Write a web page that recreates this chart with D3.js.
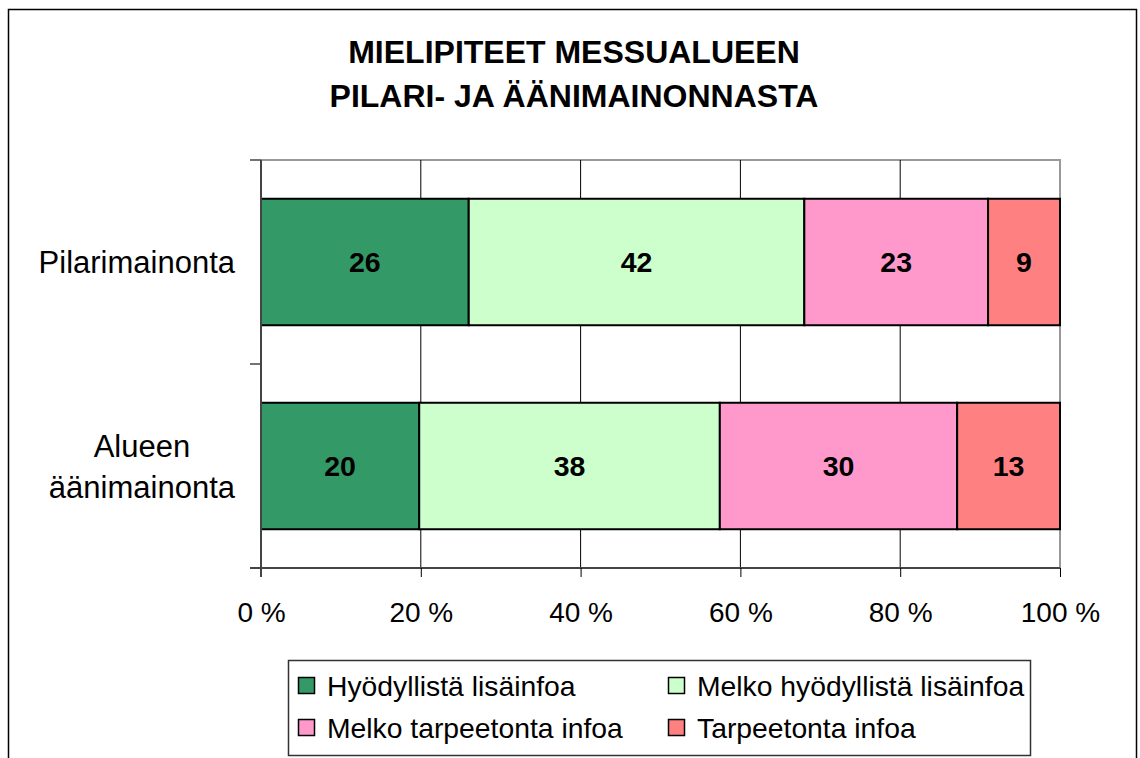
<!DOCTYPE html>
<html><head><meta charset="utf-8">
<script src="https://cdn.jsdelivr.net/npm/d3@7"></script>
<style>body{margin:0;background:#fff}svg{display:block;font-family:Arial,"Liberation Sans",sans-serif}</style>
</head><body>
<svg id="c" width="1140" height="758"></svg>
<script>
const categories = ["Pilarimainonta", "Alueen äänimainonta"];
const categoryLines = [["Pilarimainonta"], ["Alueen", "äänimainonta"]];
const seriesNames = ["Hyödyllistä lisäinfoa", "Melko hyödyllistä lisäinfoa", "Melko tarpeetonta infoa", "Tarpeetonta infoa"];
const seriesColors = ["#339966", "#CCFFCC", "#FF99CC", "#FF8080"];
const hyodyllista = [26, 20];
const melkoHyodyllista = [42, 38];
const melkoTarpeeton = [23, 30];
const tarpeeton = [9, 13];
const tickValues = [0, 0.2, 0.4, 0.6, 0.8, 1];
const titleLines = ["MIELIPITEET MESSUALUEEN", "PILARI- JA ÄÄNIMAINONNASTA"];

const svg = d3.select("#c");
const L = 261, R = 1060, T = 160, B = 568;

// outer border
svg.append("rect").attr("x", 8.5).attr("y", 9.5).attr("width", 1128).attr("height", 760)
  .attr("fill", "none").attr("stroke", "#000").attr("stroke-width", 1.5);

// title
svg.append("g").selectAll("text").data(titleLines).join("text")
  .attr("x", 574).attr("y", (d, i) => 63 + i * 44)
  .attr("text-anchor", "middle").attr("font-weight", "bold").attr("font-size", 32)
  .text(d => d);

const rows = categories.map((c, i) => {
  const vals = [hyodyllista[i], melkoHyodyllista[i], melkoTarpeeton[i], tarpeeton[i]];
  const tot = d3.sum(vals);
  let cum = 0;
  return vals.map((v, k) => { const s = cum / tot; cum += v; return {cat: c, i, k, v, x0: s, x1: cum / tot}; });
});

const x = d3.scaleLinear().domain([0, 1]).range([L, R]);
const y = d3.scaleBand().domain(categories).range([T, B]).paddingInner(0.38).paddingOuter(0.19);

// plot area border (top/right gray)
svg.append("path").attr("d", `M${L},${T}H${R}V${B}`).attr("fill", "none").attr("stroke", "#999").attr("stroke-width", 2);

// gridlines
svg.append("g").selectAll("line").data(tickValues.slice(1, -1)).join("line")
  .attr("x1", d => x(d)).attr("x2", d => x(d)).attr("y1", T).attr("y2", B)
  .attr("stroke", "#000").attr("stroke-width", 1);

// bars
const g = svg.append("g");
rows.forEach(r => {
  g.selectAll(null).data(r).join("rect")
    .attr("x", d => x(d.x0)).attr("width", d => x(d.x1) - x(d.x0))
    .attr("y", d => y(d.cat)).attr("height", y.bandwidth())
    .attr("fill", d => seriesColors[d.k]).attr("stroke", "#000").attr("stroke-width", 2);
  g.selectAll(null).data(r).join("text")
    .attr("x", d => (x(d.x0) + x(d.x1)) / 2).attr("y", d => y(d.cat) + y.bandwidth() / 2 + 10)
    .attr("text-anchor", "middle").attr("font-weight", "bold").attr("font-size", 28.5)
    .text(d => d.v);
});

// x axis
const xa = svg.append("g").attr("transform", `translate(0,${B})`)
  .call(d3.axisBottom(x).tickValues(tickValues).tickFormat(d => Math.round(d * 100) + " %").tickSize(9).tickSizeOuter(0));
xa.attr("font-size", 28).attr("font-family", "Arial,'Liberation Sans',sans-serif");
xa.select(".domain").attr("stroke", "#444").attr("stroke-width", 2).attr("d", `M${L - 11},0H${R}`);
xa.selectAll(".tick line").attr("stroke", "#000");
xa.selectAll("text").attr("font-size", 28).attr("fill", "#000").attr("dy", 0).attr("y", 54);

// y axis
const ya = svg.append("g").attr("transform", `translate(${L},0)`);
ya.append("line").attr("x1", 0).attr("x2", 0).attr("y1", T).attr("y2", B + 9).attr("stroke", "#444").attr("stroke-width", 2);
const bounds = [T, (y(categories[0]) + y.bandwidth() + y(categories[1])) / 2, B];
ya.selectAll(".yt").data(bounds).join("line").attr("class", "yt")
  .attr("x1", -11).attr("x2", 0).attr("y1", d => d).attr("y2", d => d).attr("stroke", "#444").attr("stroke-width", 1.5);
categories.forEach((c, i) => {
  const lines = categoryLines[i];
  const cy = y(c) + y.bandwidth() / 2;
  const tg = ya.append("g");
  const ts = tg.selectAll("text").data(lines).join("text")
    .attr("x", 0).attr("y", (d, j) => cy + 11 + (j - (lines.length - 1) / 2) * 41)
    .attr("text-anchor", "middle").attr("font-size", 31).text(d => d);
  let maxW = 0;
  ts.each(function() { maxW = Math.max(maxW, this.getComputedTextLength()); });
  ts.attr("x", -26 - maxW / 2);
});

// legend
const lg = svg.append("g");
lg.append("rect").attr("x", 288.5).attr("y", 660.5).attr("width", 742).attr("height", 95)
  .attr("fill", "#fff").attr("stroke", "#333").attr("stroke-width", 1.5);
const lx = [298, 668], ly = [686, 728];
lg.selectAll("g").data(seriesNames).join("g")
  .attr("transform", (d, i) => `translate(${lx[i % 2]},${ly[Math.floor(i / 2)]})`)
  .each(function(d, i) {
    const s = d3.select(this);
    s.append("rect").attr("x", 0.5).attr("y", -8.5).attr("width", 16).attr("height", 16)
      .attr("fill", seriesColors[i]).attr("stroke", "#000").attr("stroke-width", 1.5);
    s.append("text").attr("x", 29).attr("y", 10).attr("font-size", 28.3).text(d);
  });
</script>
</body></html>
